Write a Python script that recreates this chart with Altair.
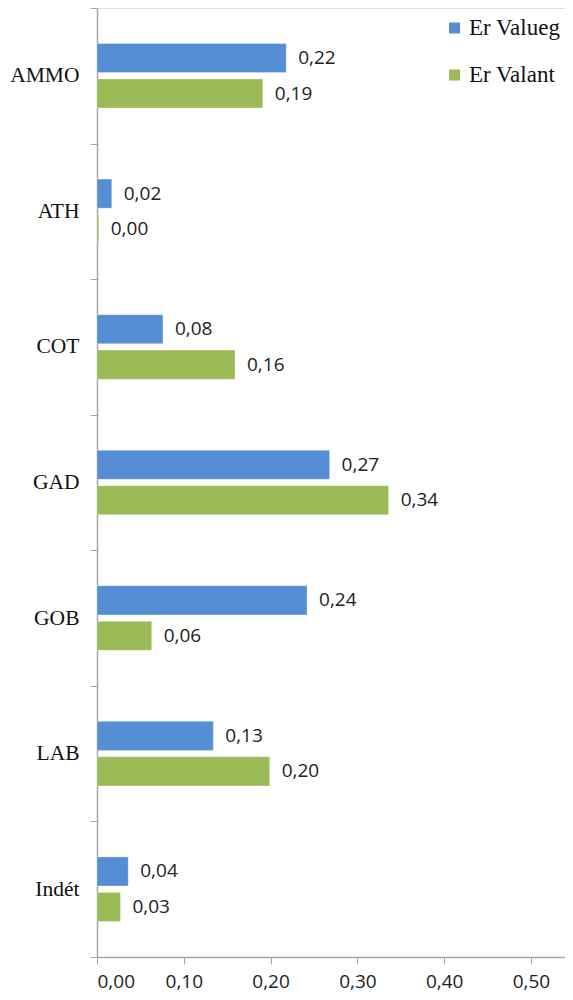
import altair as alt
import pandas as pd

categories = ["AMMO", "ATH", "COT", "GAD", "GOB", "LAB", "Indét"]
series_names = ["Er Valueg", "Er Valant"]
valueg = [0.218, 0.017, 0.076, 0.268, 0.242, 0.134, 0.036]
valant = [0.191, 0.002, 0.159, 0.336, 0.063, 0.199, 0.027]
colors = ["#558ED5", "#9BBB59"]
x_ticks = [0.0, 0.1, 0.2, 0.3, 0.4, 0.5]

rows = []
for c, a, b in zip(categories, valueg, valant):
    rows.append({"cat": c, "series": series_names[0], "value": a})
    rows.append({"cat": c, "series": series_names[1], "value": b})
df = pd.DataFrame(rows)

W = 468
H = 949
AX = "#A6A6A6"
SERIF = "Liberation Serif"
SANS = "Open Sans"

yscale = alt.Scale(domain=categories, paddingInner=0, paddingOuter=0)
xscale = alt.Scale(domain=[0, 0.5392], nice=False, zero=True)
offscale = alt.Scale(domain=series_names, paddingInner=0.18, paddingOuter=1)

yaxis = alt.Axis(
    title=None, labelFont=SERIF, labelFontSize=21.5, labelColor="#111111",
    labelPadding=11, tickBand="extent", tickSize=7, tickColor=AX,
    domainColor=AX, domainWidth=1.5, grid=False,
)
xaxis = alt.Axis(
    title=None, values=x_ticks, labelFont=SANS, labelFontSize=19,
    labelColor="#222222", labelPadding=8, tickSize=7, tickColor=AX,
    domainColor=AX, domainWidth=1.5, grid=False,
    labelExpr="replace(format(datum.value, '.2f'), '.', ',')",
)

base = alt.Chart(df).encode(
    y=alt.Y("cat:N", scale=yscale, sort=categories, axis=yaxis),
    yOffset=alt.YOffset("series:N", sort=series_names, scale=offscale),
)

bars = base.mark_bar(stroke="#FFFFFF", strokeOpacity=0.3, strokeWidth=1).encode(
    x=alt.X("value:Q", scale=xscale, axis=xaxis),
    color=alt.Color(
        "series:N",
        scale=alt.Scale(domain=series_names, range=colors),
        legend=alt.Legend(
            title=None, orient="none", legendX=346, legendY=8.5,
            symbolType="square", symbolSize=121, symbolStrokeWidth=0,
            labelFont=SERIF, labelFontSize=23, labelColor="#111111",
            labelOffset=3, rowPadding=23, padding=0, labelLimit=0,
        ),
    ),
)

labels = base.mark_text(
    align="left", baseline="middle", dx=12, font=SANS, fontSize=19, color="#222222"
).encode(
    x=alt.X("value:Q", scale=xscale),
    text=alt.Text("label:N"),
).transform_calculate(
    label="replace(format(datum.value, '.2f'), '.', ',')"
)

chart = (bars + labels).properties(
    width=W, height=H,
    autosize=alt.AutoSizeParams(type="none"),
    padding={"left": 89, "top": 0, "right": 0, "bottom": 35},
).configure_view(stroke=None).configure(background="white")

chart.save("out.html", embed_options={"renderer": "svg", "actions": False})
